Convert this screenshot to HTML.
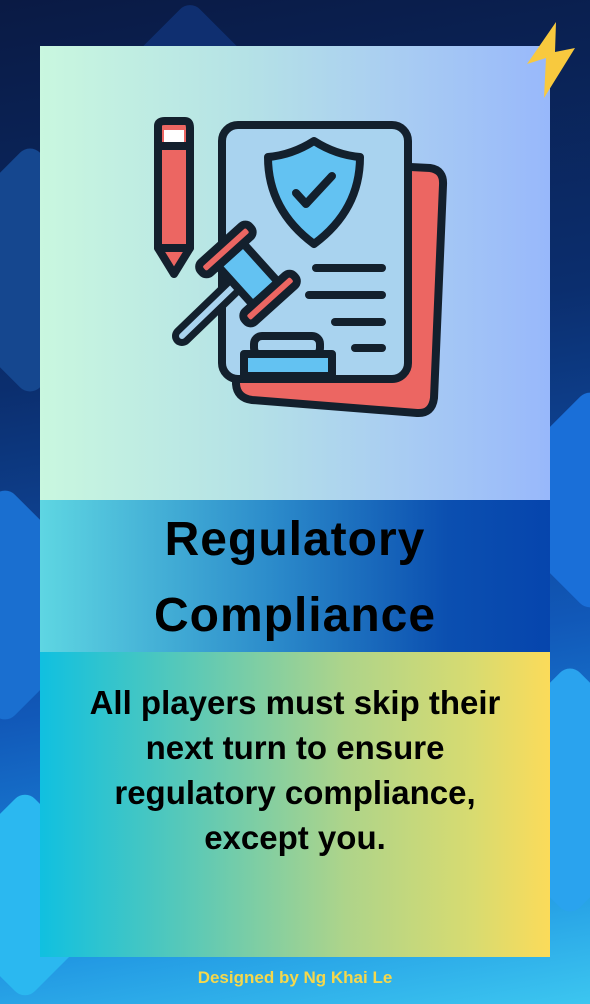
<!DOCTYPE html>
<html><head><meta charset="utf-8"><style>
body{margin:0;width:590px;height:1004px;overflow:hidden;font-family:"Liberation Sans",sans-serif}
#bg{position:absolute;left:0;top:0;width:590px;height:1004px;overflow:hidden;background:linear-gradient(170deg,#0a1a44 0%,#0b2e6e 35%,#1158b8 65%,#1c8ee0 85%,#3cc6f0 100%)}
.dia{position:absolute;transform:rotate(45deg);border-radius:14px}
#top{position:absolute;left:40px;top:46px;width:510px;height:454px;background:linear-gradient(90deg,#c9f7df,#b5e2e6 40%,#a9cdf2 70%,#98b8fb)}
#title{position:absolute;left:40px;top:500px;width:510px;height:152px;background:linear-gradient(90deg,#5ed6e2,#2c8ccb 45%,#0b4fb0 80%,#0645ad);text-align:center;font-weight:bold;font-size:48px;line-height:76px;letter-spacing:1px;color:#000;padding-top:2px;box-sizing:border-box}
#body{position:absolute;left:40px;top:652px;width:510px;height:305px;background:linear-gradient(90deg,#10c0e0,#5cc9b6 30%,#aed48a 60%,#d8db70 85%,#fbdb5a);text-align:center;font-weight:bold;font-size:33px;line-height:45px;color:#000;padding-top:28px;box-sizing:border-box}
#foot{position:absolute;left:0;width:590px;top:968px;text-align:center;font-weight:bold;font-size:17px;color:#f5d84c}
</style></head><body>
<div id="bg">
 <div class="dia" style="left:-60px;top:180px;width:180px;height:180px;background:#15478f"></div>
 <div class="dia" style="left:-80px;top:520px;width:170px;height:170px;background:#1a6fd0"></div>
 <div class="dia" style="left:510px;top:420px;width:160px;height:160px;background:#1a6fd8"></div>
 <div class="dia" style="left:480px;top:700px;width:180px;height:180px;background:#2aa3ee"></div>
 <div class="dia" style="left:-50px;top:820px;width:150px;height:150px;background:#2bb8f0"></div>
 <div class="dia" style="left:140px;top:20px;width:100px;height:100px;background:#0f2f70"></div>
</div>
<div id="top"></div>
<svg style="position:absolute;left:0;top:0" width="590" height="500">
 <g stroke="#13202d" stroke-width="8" stroke-linejoin="round" stroke-linecap="round">
  <path d="M238,158 L430,168 Q444,170 443,185 L434,398 Q432,414 417,413 L252,400 Q237,398 236,384 Z" fill="#ec6662"/>
  <rect x="222" y="125" width="186" height="254" rx="16" fill="#a9d3ef"/>
  <path d="M314,141 Q292,155 268,157 Q268,210 314,244 Q360,210 360,157 Q336,155 314,141 Z" fill="#63c2f2"/>
  <path d="M296,193 L306,204 L332,176" fill="none"/>
  <line x1="316" y1="268" x2="382" y2="268"/><line x1="309" y1="295" x2="382" y2="295"/><line x1="335" y1="322" x2="382" y2="322"/><line x1="355" y1="348" x2="382" y2="348"/>
  <rect x="254" y="336" width="66" height="20" rx="8" fill="#a9d3ef"/>
  <rect x="244" y="354" width="88" height="22" fill="#63c2f2"/>
  <path d="M158,126 Q158,121 165,121 L185,121 Q190,121 190,128 L190,248 L174,274 L158,248 Z" fill="#ec6662"/>
  <line x1="158" y1="146" x2="190" y2="146"/><line x1="158" y1="248" x2="190" y2="248"/>
  <line x1="182" y1="336" x2="238" y2="282" stroke-width="20"/>
  <line x1="182" y1="336" x2="238" y2="282" stroke="#a9d3ef" stroke-width="6"/>
  <g transform="translate(248,274) rotate(48)">
   <rect x="-26" y="-17" width="52" height="34" fill="#63c2f2"/>
   <rect x="-40" y="-33" width="14" height="66" rx="6" fill="#ec6662"/>
   <rect x="26" y="-33" width="14" height="66" rx="6" fill="#ec6662"/>
  </g>
 </g>
 <rect x="164" y="130" width="20" height="12" fill="#fff"/>
</svg>
<svg style="position:absolute;left:0;top:0" width="590" height="110"><polygon points="556,22 527,64 546,58 544,98 575,48 555,52" fill="#f8c93e"/></svg>
<div id="title">Regulatory<br>Compliance</div>
<div id="body">All players must skip their<br>next turn to ensure<br>regulatory compliance,<br>except you.</div>
<div id="foot">Designed by Ng Khai Le</div>
</body></html>
